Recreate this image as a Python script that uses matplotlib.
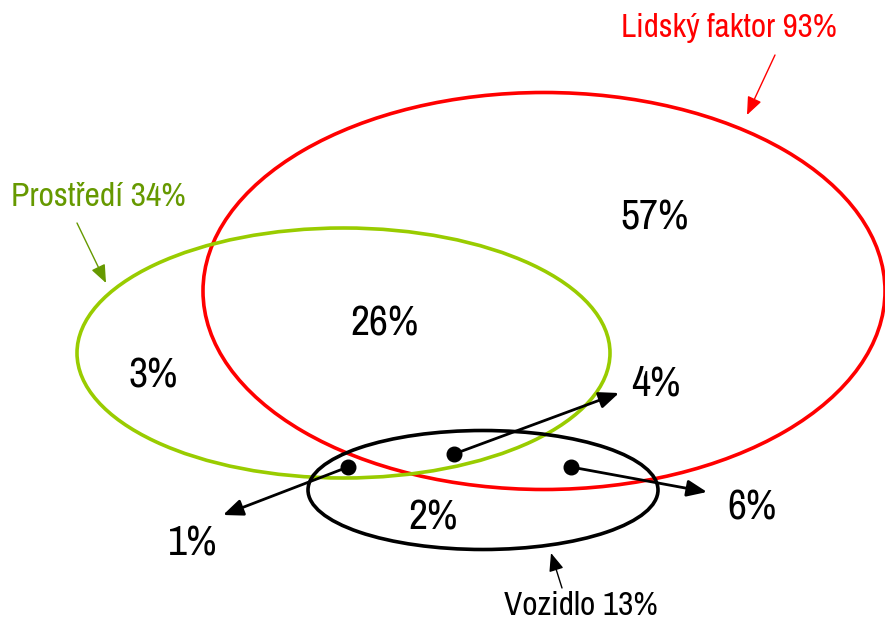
import matplotlib
matplotlib.use("Agg")
import matplotlib.pyplot as plt
from matplotlib.patches import Ellipse

# ---- data ----
set_names = ["Lidský faktor", "Prostředí", "Vozidlo"]
set_totals = [93, 34, 13]
region_names = ["L only", "L+P", "P only", "L+P+V", "L+V", "V only", "P+V"]
region_values = [57, 26, 3, 4, 6, 2, 1]

# ---- layout (pixel coordinates, y downwards) ----
W, H = 885, 622
plt.rcParams['font.family'] = ["Archivo Narrow", "Liberation Sans", "DejaVu Sans"]

fig = plt.figure(figsize=(W / 100, H / 100), dpi=100)
ax = fig.add_axes([0, 0, 1, 1])
ax.set_xlim(0, W)
ax.set_ylim(H, 0)
ax.axis("off")

set_colors = ["#FF0000", "#99CC00", "#000000"]
label_colors = ["#FF0000", "#669900", "#000000"]
ellipses = [((544, 291), 682, 397), ((343.5, 353), 533, 250), ((483, 490), 350, 119)]
for (c, w, h), col in zip(ellipses, set_colors):
    ax.add_patch(Ellipse(c, w, h, fill=False, edgecolor=col, lw=2.6, zorder=2))

# set labels with pointer arrows
set_label_pos = [(729, 28), (98, 197), (581, 606)]
set_label_size = [23.8, 24.2, 24]
set_arrows = [((775, 55), (747, 115)), ((77, 223), (106, 283)), ((562, 588), (551, 553))]
for name, tot, pos, fs, col, (a0, a1) in zip(set_names, set_totals, set_label_pos,
                                              set_label_size, label_colors, set_arrows):
    ax.text(pos[0], pos[1], f"{name} {tot}%", color=col, fontsize=fs,
            ha="center", va="center", zorder=5)
    ax.annotate("", xy=a1, xytext=a0,
                arrowprops=dict(arrowstyle="-|>,head_length=1.1,head_width=0.45",
                                color=col, lw=1.0, shrinkA=0, shrinkB=0), zorder=4)

# region labels
region_pos = [(655, 217), (385, 324), (153, 376), (656, 384), (752, 508), (433, 518), (193, 543)]
for v, p in zip(region_values, region_pos):
    ax.text(p[0], p[1], f"{v}%", fontsize=30, ha="center", va="center", zorder=5)

# dots with arrows for small regions
dot_pos = {"L+P+V": (454, 454), "L+V": (571, 467), "P+V": (348, 467)}
dot_targets = {"L+P+V": (619, 393), "L+V": (707, 492), "P+V": (223, 515)}
for key in dot_pos:
    d = dot_pos[key]
    t = dot_targets[key]
    ax.plot([d[0]], [d[1]], "o", color="black", ms=10.5, zorder=6)
    ax.annotate("", xy=t, xytext=d,
                arrowprops=dict(arrowstyle="-|>,head_length=1.2,head_width=0.5",
                                color="black", lw=2.0, shrinkA=0, shrinkB=0), zorder=6)

fig.savefig("out.png", dpi=100)
